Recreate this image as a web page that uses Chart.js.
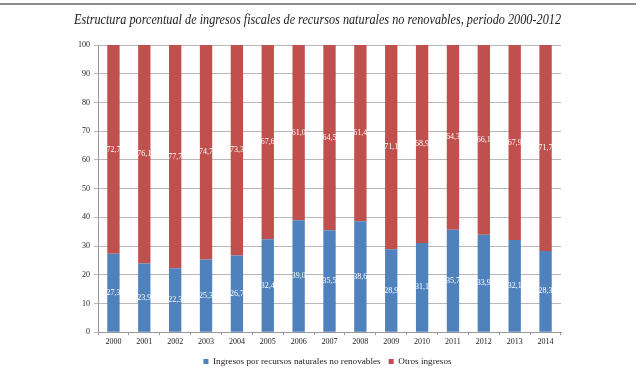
<!DOCTYPE html>
<html>
<head>
<meta charset="utf-8">
<script src="https://cdn.jsdelivr.net/npm/chart.js@4"></script>
<style>
  html, body { margin: 0; padding: 0; background: #fff; }
  #wrap { position: relative; width: 640px; height: 371px; }
  #rule { position: absolute; left: 0; top: 3px; width: 636px; height: 2px; background: #8c8c8c; }
</style>
</head>
<body>
<div id="wrap">
  <div id="rule"></div>
  <canvas id="chart" width="640" height="371"></canvas>
</div>
<script>
const years = ['2000', '2001', '2002', '2003', '2004', '2005', '2006', '2007',
               '2008', '2009', '2010', '2011', '2012', '2013', '2014'];
const recursosNaturales = [27.3, 23.9, 22.3, 25.3, 26.7, 32.4, 39.0, 35.5, 38.6, 28.9, 31.1, 35.7, 33.9, 32.1, 28.3];
const otrosIngresos = [72.7, 76.1, 77.7, 74.7, 73.3, 67.6, 61.0, 64.5, 61.4, 71.1, 68.9, 64.3, 66.1, 67.9, 71.7];

const serif = "'Liberation Serif', 'DejaVu Serif', serif";

// etiquetas de valor dentro de cada segmento
const barLabels = {
    id: 'barLabels',
    afterDatasetsDraw(chart) {
        const ctx = chart.ctx;
        ctx.save();
        ctx.fillStyle = '#ffffff';
        ctx.font = '8px ' + serif;
        ctx.textAlign = 'center';
        ctx.textBaseline = 'middle';
        chart.data.datasets.forEach(function(ds, i) {
            chart.getDatasetMeta(i).data.forEach(function(bar, j) {
                const y = (bar.y + bar.base) / 2;
                ctx.fillText(ds.data[j].toFixed(1).replace('.', ','), bar.x, y);
            });
        });
        ctx.restore();
    }
};

// la leyenda va centrada bajo el área del gráfico, no bajo el título
const legendShift = {
    id: 'legendShift',
    afterLayout(chart) {
        if (chart.legend) {
            chart.legend.left += 10;
            chart.legend.right += 10;
        }
    }
};

new Chart(document.getElementById('chart').getContext('2d'), {
    type: 'bar',
    data: {
        labels: years,
        datasets: [{
            label: 'Ingresos por recursos naturales no renovables',
            data: recursosNaturales,
            backgroundColor: '#4f81bd',
            barPercentage: 0.8,
            categoryPercentage: 0.5
        }, {
            label: 'Otros ingresos',
            data: otrosIngresos,
            backgroundColor: '#c0504d',
            barPercentage: 0.8,
            categoryPercentage: 0.5
        }]
    },
    options: {
        responsive: false,
        animation: false,
        layout: { padding: { left: 74, right: 79, top: 0, bottom: -5 } },
        plugins: {
            title: {
                display: true,
                text: 'Estructura porcentual de ingresos fiscales de recursos naturales no renovables, periodo 2000-2012',
                color: '#222',
                font: { family: serif, size: 13.8, style: 'italic', weight: 'normal' },
                padding: { top: 12, bottom: 16.5 }
            },
            legend: {
                position: 'bottom',
                labels: {
                    color: '#222',
                    boxWidth: 5,
                    boxHeight: 5,
                    padding: 8,
                    font: { family: serif, size: 9.2 }
                }
            },
            tooltip: { enabled: false }
        },
        scales: {
            x: {
                stacked: true,
                grid: { display: true, drawOnChartArea: false, tickLength: 3, color: '#999' },
                border: { color: '#999' },
                ticks: { color: '#222', font: { family: serif, size: 8 }, padding: 2, maxRotation: 0 }
            },
            y: {
                stacked: true,
                min: 0,
                max: 100,
                grid: { color: '#b8b8b8', tickLength: 4 },
                border: { color: '#999' },
                ticks: { stepSize: 10, color: '#222', font: { family: serif, size: 8 }, padding: 4 }
            }
        }
    },
    plugins: [barLabels, legendShift]
});
</script>
</body>
</html>
